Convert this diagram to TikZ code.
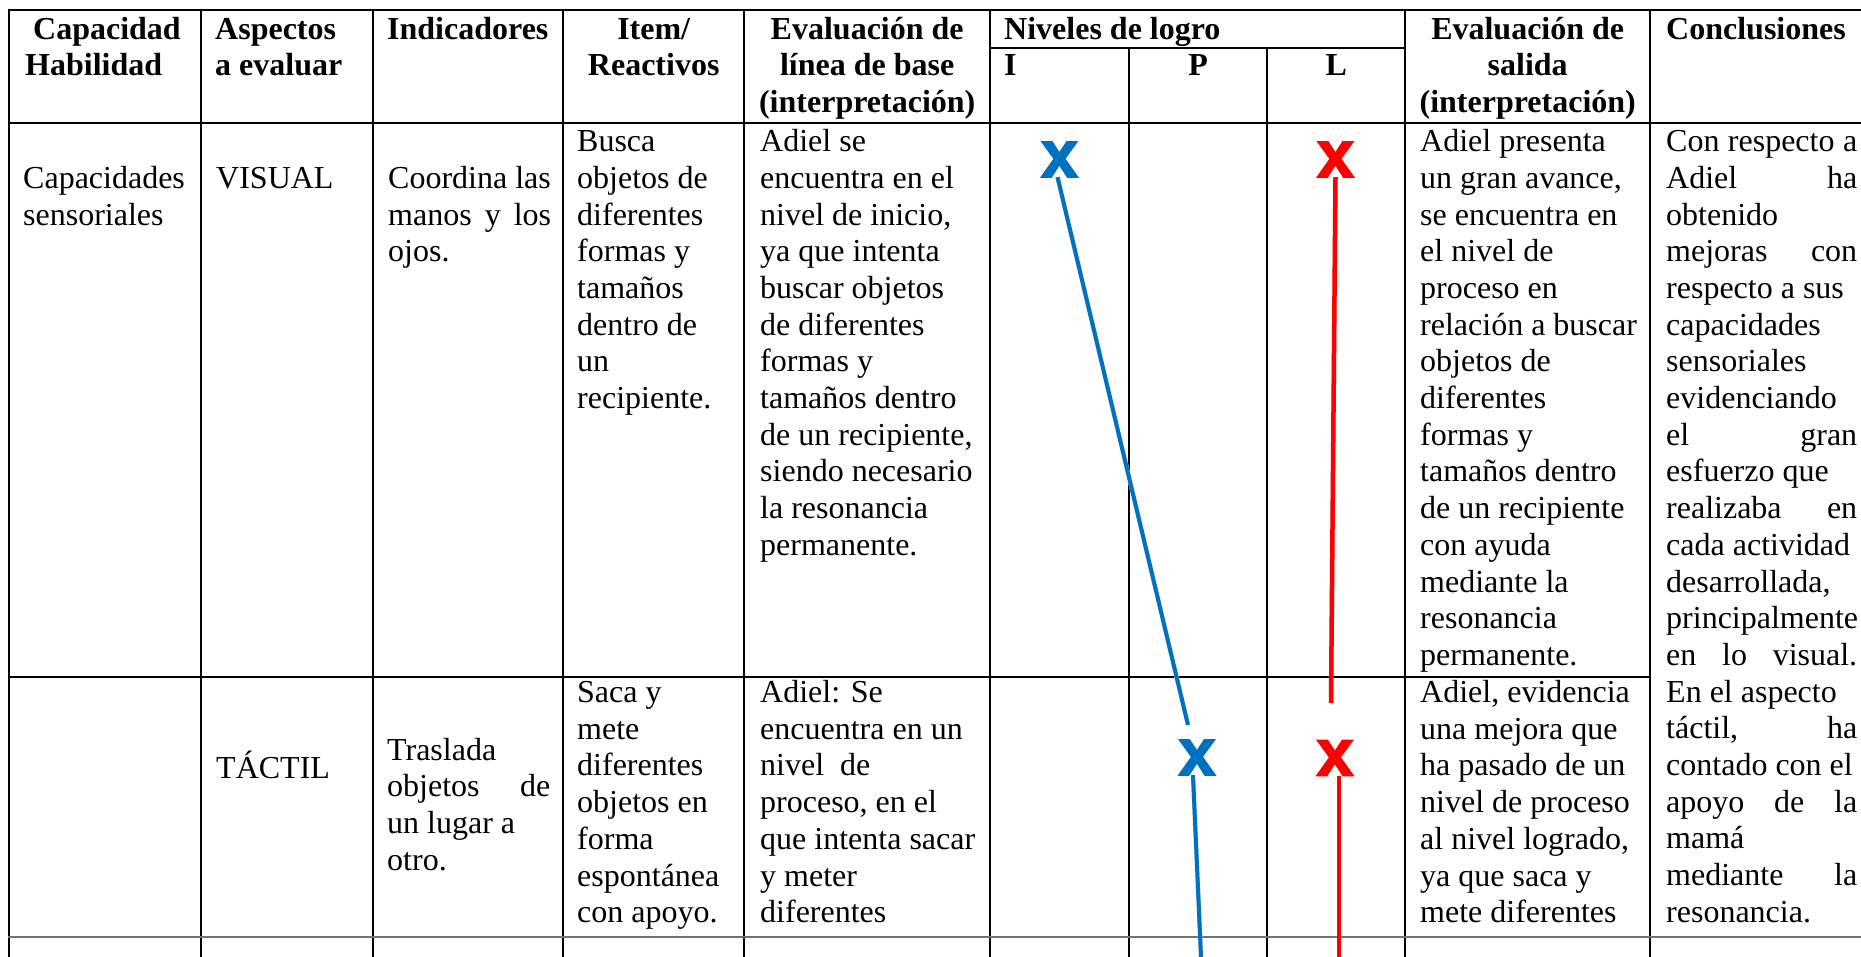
\documentclass[tikz,border=0pt]{standalone}
\usepackage{fontspec}
\setmainfont{Liberation Serif}
\newfontfamily\xfont[BoldFeatures={FakeBold=2.5}]{Liberation Sans}
\definecolor{xblue}{HTML}{0070C0}
\definecolor{xred}{HTML}{FF0000}
\newcommand\cellL[3]{\parbox[t]{#1pt}{\fontsize{32}{#2}\selectfont\raggedright #3}}
\newcommand\cellC[3]{\parbox[t]{#1pt}{\fontsize{32}{#2}\selectfont\centering #3}}
\newcommand\jst[1]{\makebox[\linewidth][s]{#1}}
\begin{document}
\begin{tikzpicture}[x=1pt,y=-1pt,
  grid/.style={line width=2pt, black},
  txt/.style={anchor=base west, inner sep=0pt},
  hd/.style={anchor=base west, inner sep=0pt, font=\bfseries},
  bluex/.style={text=xblue, font=\xfont\bfseries\fontsize{66}{66}\selectfont, inner sep=0pt},
  redx/.style={text=xred, font=\xfont\bfseries\fontsize{66}{66}\selectfont, inner sep=0pt},
  bluel/.style={draw=xblue, line width=4pt},
  redl/.style={draw=xred, line width=4.5pt},
  shadowl/.style={draw=black!18, line width=4.5pt}]
\useasboundingbox (0,0) rectangle (1861,957);
\fill[white] (0,0) rectangle (1861,957);

% grid
\foreach \x in {9,201,373,563,744,990,1405,1650} \draw[grid] (\x,10) -- (\x,957);
\foreach \x in {1129,1267} \draw[grid] (\x,48) -- (\x,957);
\draw[grid] (8,10) -- (1861,10);
\draw[grid] (8,123) -- (1861,123);
\draw[grid] (990,48) -- (1405,48);
\draw[grid] (8,677) -- (1650,677);
\draw[line width=2pt, black!55] (8,937) -- (1861,937);

% header
\node[hd] (h1) at (25,39.3) {\cellL{170}{36.7}{\hspace*{8pt}Capacidad\\Habilidad}};
\node[hd] (h2) at (215,39.3) {\cellL{155}{36.7}{Aspectos\\a evaluar}};
\node[hd] (h3) at (387,39.3) {\cellL{170}{36.7}{Indicadores}};
\node[hd] (h4) at (563,39.3) {\cellC{181}{36.7}{Item/\\Reactivos}};
\node[hd] (h5) at (744,39.3) {\cellC{246}{36.7}{Evaluación de\\línea de base\\(interpretación)}};
\node[hd] (h6) at (1004,39.3) {\cellL{380}{36.7}{Niveles de logro}};
\node[hd] (hI) at (1004,76) {\cellL{100}{36.7}{I}};
\node[hd] (hP) at (1129,76) {\cellC{138}{36.7}{P}};
\node[hd] (hL) at (1267,76) {\cellC{138}{36.7}{L}};
\node[hd] (h7) at (1405,39.3) {\cellC{245}{36.7}{Evaluación de\\salida\\(interpretación)}};
\node[hd] (h8) at (1666,39.3) {\cellL{200}{36.7}{Conclusiones}};

% row 1
\node[txt] (c11) at (23,188.4) {\cellL{175}{36.7}{Capacidades\\sensoriales}};
\node[txt] (c12) at (216,188.4) {\cellL{150}{36.7}{VISUAL}};
\node[txt] (c13) at (388,188.4) {\cellL{163}{36.7}{Coordina las\\\jst{manos y los}\\ojos.}};
\node[txt] (c14) at (577,151.7) {\cellL{165}{36.7}{Busca\\objetos de\\diferentes\\formas y\\tamaños\\dentro de\\un\\recipiente.}};
\node[txt] (c15) at (760,151.7) {\cellL{228}{36.7}{Adiel se\\encuentra en el\\nivel de inicio,\\ya que intenta\\buscar objetos\\de diferentes\\formas y\\tamaños dentro\\de un recipiente,\\siendo necesario\\la resonancia\\permanente.}};
\node[txt] (c16) at (1420,151.7) {\cellL{228}{36.7}{Adiel presenta\\un gran avance,\\se encuentra en\\el nivel de\\proceso en\\relación a buscar\\objetos de\\diferentes\\formas y\\tamaños dentro\\de un recipiente\\con ayuda\\mediante la\\resonancia\\permanente.}};
\node[txt] (c17) at (1666,151.7) {\cellL{191}{36.7}{\jst{Con respecto a}\\\jst{Adiel ha}\\obtenido\\\jst{mejoras con}\\respecto a sus\\capacidades\\sensoriales\\evidenciando\\\jst{el gran}\\esfuerzo que\\\jst{realizaba en}\\cada actividad\\desarrollada,\\principalmente\\\jst{en lo visual.}\\En el aspecto\\\jst{táctil, ha}\\contado con el\\\jst{apoyo de la}\\mamá\\\jst{mediante la}\\resonancia.}};

% row 2
\node[txt] (c22) at (216,778) {\cellL{150}{36.7}{TÁCTIL}};
\node[txt] (c23) at (387,760) {\cellL{163}{36.7}{Traslada\\\jst{objetos de}\\un lugar a\\otro.}};
\node[txt] (c24) at (577,702.5) {\cellL{165}{36.7}{Saca y\\mete\\diferentes\\objetos en\\forma\\espontánea\\con apoyo.}};
\node[txt] (c25) at (760,702.5) {\cellL{228}{36.7}{Adiel: Se\\encuentra en un\\nivel\ \ de\\proceso, en el\\que intenta sacar\\y meter\\diferentes}};
\node[txt] (c26) at (1420,702.5) {\cellL{228}{36.7}{Adiel, evidencia\\una mejora que\\ha pasado de un\\nivel de proceso\\al nivel logrado,\\ya que saca y\\mete diferentes}};

% marks
\node[bluex] (bx1) at (1059.5,159.5) {x};
\node[bluex] (bx2) at (1197,757.5) {x};
\node[redx] (rx1) at (1335.5,159.5) {x};
\node[redx] (rx2) at (1335,758) {x};
\coordinate (bA) at (1188,725);
\coordinate (bB) at (1201,957);
\coordinate (rA) at (1331,703);
\coordinate (rB) at (1339,957);
\begin{scope}[xshift=1.5pt,yshift=-1.5pt]
\draw[shadowl] ([xshift=-2pt]bx1.south) -- (bA);
\draw[shadowl] ([xshift=-4pt]bx2.south) -- (bB);
\draw[shadowl] (rx1.south) -- (rA);
\draw[shadowl] ([xshift=4pt]rx2.south) -- (rB);
\end{scope}
\draw[bluel] ([xshift=-2pt]bx1.south) -- (bA);
\draw[bluel] ([xshift=-4pt]bx2.south) -- (bB);
\draw[redl] (rx1.south) -- (rA);
\draw[redl] ([xshift=4pt]rx2.south) -- (rB);
\end{tikzpicture}
\end{document}
